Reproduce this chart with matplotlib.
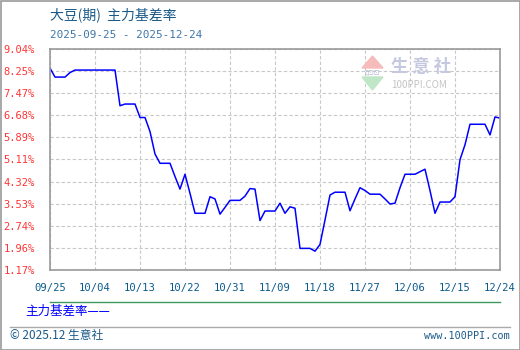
import numpy as np
import pandas as pd
import matplotlib
matplotlib.use("Agg")
import matplotlib.pyplot as plt
from matplotlib.patches import Rectangle, Polygon
from matplotlib.lines import Line2D

plt.rcParams["font.family"] = ["Noto Sans CJK SC", "DejaVu Sans"]

title = "大豆(期)  主力基差率"
subtitle = "2025-09-25 - 2025-12-24"
series_name = "主力基差率"

start_date = "2025-09-25"
basis_rate = [
    8.36, 8.04, 8.04, 8.04, 8.20, 8.29, 8.29, 8.29, 8.29, 8.29,
    8.29, 8.29, 8.29, 8.29, 7.02, 7.08, 7.08, 7.08, 6.60, 6.60,
    6.10, 5.30, 4.97, 4.97, 4.97, 4.50, 4.05, 4.58, 3.90, 3.19,
    3.19, 3.19, 3.78, 3.70, 3.16, 3.40, 3.65, 3.65, 3.65, 3.80,
    4.07, 4.05, 2.93, 3.27, 3.27, 3.27, 3.55, 3.19, 3.42, 3.37,
    1.94, 1.94, 1.94, 1.84, 2.08, 2.95, 3.84, 3.94, 3.94, 3.94,
    3.28, 3.70, 4.10, 4.00, 3.87, 3.87, 3.87, 3.70, 3.52, 3.55,
    4.10, 4.58, 4.58, 4.58, 4.67, 4.76, 4.00, 3.19, 3.59, 3.59,
    3.59, 3.78, 5.10, 5.63, 6.36, 6.36, 6.36, 6.36, 5.98, 6.62,
    6.58,
]
ytick_values = [1.17, 1.96, 2.74, 3.53, 4.32, 5.11, 5.89, 6.68, 7.47, 8.25, 9.04]
xtick_labels = ["09/25", "10/04", "10/13", "10/22", "10/31", "11/09",
                "11/18", "11/27", "12/06", "12/15", "12/24"]

dates = pd.date_range(start_date, periods=len(basis_rate), freq="D")
xtick_dates = dates[::9]

fig = plt.figure(figsize=(5.2, 3.5), dpi=100)
ax = fig.add_axes([50 / 520, 1 - 270 / 350, 450 / 520, 221 / 350])

ax.plot(dates, basis_rate, color="#0000ff", lw=1.1)

ax.set_xlim(dates[0], dates[-1])
ax.set_ylim(ytick_values[0], ytick_values[-1])
ax.set_yticks(ytick_values)
ax.set_yticklabels(["%.2f%%" % v for v in ytick_values],
                   family="DejaVu Sans Mono", fontsize=7.5, color="#ff3333")
ax.set_xticks(xtick_dates)
ax.set_xticklabels(xtick_labels, family="DejaVu Sans Mono", fontsize=7.6,
                   color="#0a5a8c")
ax.tick_params(axis="y", length=0, pad=11)
ax.tick_params(axis="x", length=0, pad=9)
ax.grid(True, color="#c8c8c8", linestyle=(0, (3, 2)), lw=0.8)
for s in ax.spines.values():
    s.set_color("#999999")
    s.set_linewidth(1.2)

# header
fig.text(50 / 520, 1 - 15 / 350, title, fontsize=10, color="#1a5a8a", va="center")
fig.text(50 / 520, 1 - 35 / 350, subtitle, family="DejaVu Sans Mono",
         fontsize=7.9, color="#3f77a8", va="center")

# watermark
fig.patches.append(Polygon([[362 / 520, 1 - 68 / 350], [383 / 520, 1 - 68 / 350],
                            [372.5 / 520, 1 - 56 / 350]], closed=True,
                           transform=fig.transFigure, color="#f6bcbc", zorder=0))
fig.patches.append(Polygon([[362 / 520, 1 - 77 / 350], [383 / 520, 1 - 77 / 350],
                            [372.5 / 520, 1 - 90 / 350]], closed=True,
                           transform=fig.transFigure, color="#bfe6c6", zorder=0))
fig.text(372.5 / 520, 1 - 72.5 / 350, "ξ⊡⊡", fontsize=5, color="#b8bcd8",
         ha="center", va="center", family="DejaVu Sans")
fig.text(391 / 520, 1 - 67 / 350, "生 意 社", fontsize=12.5, color="#c5c9e0",
         va="center", weight="bold")
fig.text(391 / 520, 1 - 85 / 350, "100PPI.COM", fontsize=7, color="#c4c4c4",
         va="center")

# legend and footer lines
fig.add_artist(Line2D([50 / 520, 500 / 520], [1 - 302 / 350, 1 - 302 / 350],
                      color="#3a9a5a", lw=1.0))
fig.text(25 / 520, 1 - 311 / 350, series_name + "——", fontsize=9,
         color="#0000ff", va="center")
fig.add_artist(Line2D([10 / 520, 510 / 520], [1 - 327 / 350, 1 - 327 / 350],
                      color="#aaaaaa", lw=1.0))
fig.text(10 / 520, 1 - 335 / 350, "© 2025.12 生意社", fontsize=8.5,
         color="#1a5a8a", va="center")
fig.text(510 / 520, 1 - 336 / 350, "www.100PPI.com", family="DejaVu Sans Mono",
         fontsize=7.3, color="#1a5a8a", va="center", ha="right")

fig.patches.append(Rectangle((0.5 / 520, 0.5 / 350), 519 / 520, 349 / 350,
                             transform=fig.transFigure, fill=False,
                             edgecolor="#999999", lw=1.2))

fig.savefig("out.png", dpi=100)
